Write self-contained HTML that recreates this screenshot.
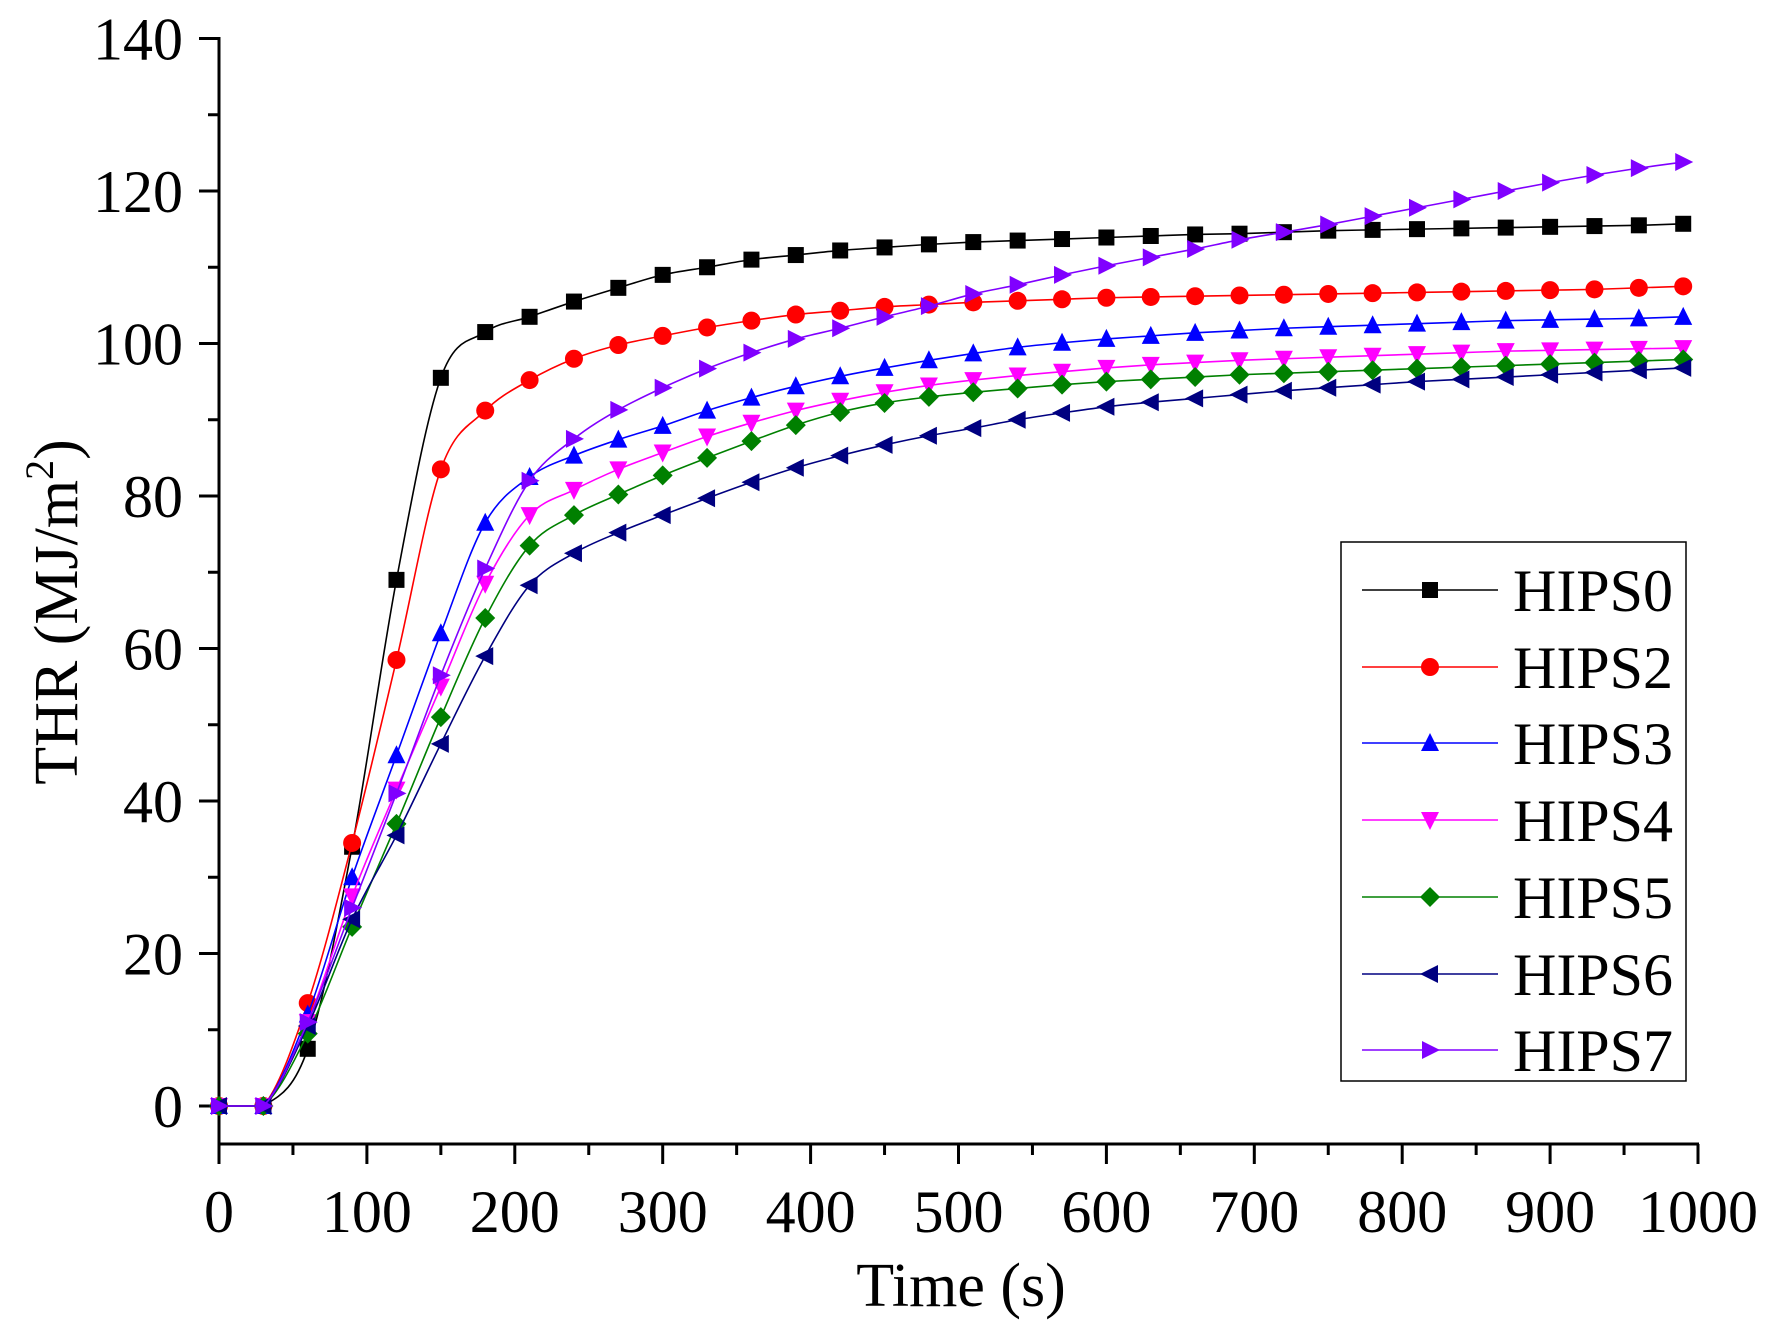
<!DOCTYPE html>
<html><head><meta charset="utf-8"><style>
html,body{margin:0;padding:0;background:#fff;}
svg{display:block;font-family:"Liberation Serif",serif;}
</style></head><body>
<svg id="s" width="1772" height="1328" viewBox="0 0 1772 1328" xmlns="http://www.w3.org/2000/svg"></svg>
<script>
const S=document.getElementById('s');
const X=v=>219+v*1.479, Y=v=>1106-v*7.625+0;
const y0=1144;
let h='';
h+=`<line x1="219" y1="37" x2="219" y2="${y0}" stroke="#000" stroke-width="3"/>`;
h+=`<line x1="217.5" y1="${y0}" x2="1699" y2="${y0}" stroke="#000" stroke-width="3"/>`;
for(let v=0;v<=1000;v+=50){const x=X(v),mj=v%100==0;h+=`<line x1="${x}" y1="${y0}" x2="${x}" y2="${y0+(mj?20:11)}" stroke="#000" stroke-width="3"/>`;
 if(mj)h+=`<text x="${x}" y="1232" font-size="60" text-anchor="middle">${v}</text>`;}
for(let v=0;v<=140;v+=10){const y=38.5+(140-v)*7.625,mj=v%20==0;h+=`<line x1="219" y1="${y}" x2="${219-(mj?20:11)}" y2="${y}" stroke="#000" stroke-width="3"/>`;
 if(mj)h+=`<text x="183" y="${y+21}" font-size="60" text-anchor="end">${v}</text>`;}
h+=`<text x="961" y="1306" font-size="62" text-anchor="middle">Time (s)</text>`;
h+=`<text transform="translate(77,612) rotate(-90)" font-size="62" text-anchor="middle">THR (MJ/m<tspan font-size="40" dy="-24">2</tspan><tspan dy="24">)</tspan></text>`;
const D={
HIPS0:['#000','sq',[0,0,7.5,34,69,95.5,101.5,103.5,105.5,107.3,109,110,111,111.6,112.2,112.6,113,113.3,113.5,113.7,113.9,114.1,114.3,114.4,114.6,114.8,114.9,115,115.1,115.2,115.3,115.4,115.5,115.7]],
HIPS2:['#ff0000','ci',[0,0,13.5,34.5,58.5,83.5,91.2,95.2,98,99.8,101,102.1,103,103.8,104.3,104.8,105.1,105.4,105.6,105.8,106,106.1,106.2,106.3,106.4,106.5,106.6,106.7,106.8,106.9,107,107.1,107.3,107.5]],
HIPS3:['#0000ff','up',[0,0,12,30,46,62,76.5,82.5,85.3,87.4,89.2,91.2,92.9,94.4,95.7,96.8,97.8,98.7,99.5,100.1,100.6,101,101.4,101.7,102,102.2,102.4,102.6,102.8,103,103.1,103.2,103.3,103.5]],
HIPS4:['#ff00ff','dn',[0,0,11,27.5,41.5,55,68.5,77.5,80.8,83.5,85.7,87.8,89.6,91.2,92.5,93.6,94.5,95.2,95.8,96.3,96.8,97.2,97.5,97.8,98,98.2,98.4,98.6,98.8,99,99.1,99.2,99.3,99.4]],
HIPS5:['#008000','di',[0,0,9.5,23.5,37,51,64,73.5,77.5,80.2,82.7,85,87.2,89.3,91,92.2,93,93.6,94.1,94.6,95,95.3,95.6,95.9,96.1,96.3,96.5,96.7,96.9,97.1,97.3,97.5,97.7,97.9]],
HIPS6:['#000080','lf',[0,0,10.5,24.5,35.5,47.5,59,68.3,72.5,75.2,77.5,79.7,81.8,83.7,85.3,86.7,87.9,88.9,90,90.9,91.7,92.3,92.8,93.3,93.8,94.2,94.6,95,95.3,95.6,95.9,96.2,96.5,96.8]],
HIPS7:['#8000ff','rt',[0,0,11,26,41,56.5,70.5,82,87.5,91.3,94.2,96.7,98.8,100.6,102,103.5,104.9,106.5,107.7,109,110.2,111.3,112.4,113.6,114.6,115.6,116.7,117.8,118.9,120,121.1,122.1,123,123.8]]};
function mk(t,x,y,c){const r=8;
 if(t=='sq')return `<rect x="${x-r}" y="${y-r}" width="${2*r}" height="${2*r}" fill="${c}"/>`;
 if(t=='ci')return `<circle cx="${x}" cy="${y}" r="${r+1}" fill="${c}"/>`;
 let p;
 if(t=='up')p=[[x,y-r-2],[x+r+1,y+r],[x-r-1,y+r]];
 if(t=='dn')p=[[x,y+r+2],[x+r+1,y-r],[x-r-1,y-r]];
 if(t=='di')p=[[x,y-r-2],[x+r+2,y],[x,y+r+2],[x-r-2,y]];
 if(t=='lf')p=[[x-r-2,y],[x+r,y-r-1],[x+r,y+r+1]];
 if(t=='rt')p=[[x+r+2,y],[x-r,y-r-1],[x-r,y+r+1]];
 return `<polygon points="${p.map(a=>a.join(',')).join(' ')}" fill="${c}"/>`;}
const cl=(v,a,b)=>Math.max(Math.min(a,b),Math.min(Math.max(a,b),v));
for(const k in D){const [c,t,v]=D[k];const P=v.map((a,i)=>[X(i*30),Y(a)]);
 let d=`M${P[0]}`;for(let i=0;i<P.length-1;i++){const p0=P[i-1]||P[i],p1=P[i],p2=P[i+1],p3=P[i+2]||P[i+1];
 const c1y=cl(p1[1]+(p2[1]-p0[1])/6,p1[1],p2[1]),c2y=cl(p2[1]-(p3[1]-p1[1])/6,p1[1],p2[1]);
 d+=` C${p1[0]+(p2[0]-p0[0])/6},${c1y} ${p2[0]-(p3[0]-p1[0])/6},${c2y} ${p2[0]},${p2[1]}`;}
 h+=`<path d="${d}" fill="none" stroke="${c}" stroke-width="1.6"/>`;
 P.forEach(p=>h+=mk(t,p[0],p[1],c));}
h+=`<rect x="1341" y="542" width="345" height="539" fill="#fff" stroke="#000" stroke-width="1.5"/>`;
const ly=[590,667,743,820,897,974,1050];let i=0;
for(const k in D){const [c,t]=D[k];const y=ly[i++];
 h+=`<line x1="1362" y1="${y}" x2="1498" y2="${y}" stroke="${c}" stroke-width="1.6"/>`+mk(t,1430,y,c);
 h+=`<text x="1513" y="${y+21}" font-size="60">${k}</text>`;}
S.innerHTML=h;
</script>
</body></html>
